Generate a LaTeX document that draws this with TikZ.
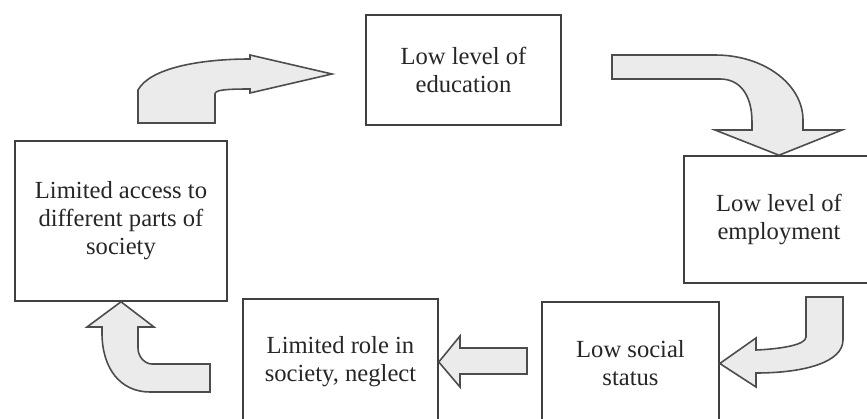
\documentclass[tikz,border=0pt]{standalone}
\usepackage{fontspec}
\setmainfont{Liberation Serif}
\tikzset{
    box/.style={ % the five boxes of the cycle
        draw=black!75,
        line width=0.9pt,
        align=center,
        inner sep=0pt,
        text=black!85,
        font=\fontsize{14}{16}\selectfont
    },
    bigarrow/.style={ % wide block arrows between the boxes
        draw=black!70,
        line width=0.9pt,
        fill=black!8,
        line join=miter
    }
}

\begin{document}
\begin{tikzpicture}[x=0.02cm,y=-0.02cm]
            \useasboundingbox (0,0) rectangle (867,419);
            \node[box, minimum width=3.9cm, minimum height=2.2cm] (edu) at (463.5,70) {Low level of\\education};
            \node[box, minimum width=3.8cm, minimum height=2.54cm] (emp) at (779,219.5) {Low level of\\employment};
            \node[box, minimum width=3.54cm, minimum height=2.46cm] (soc) at (630.5,363.5) {Low social\\status};
            \node[box, minimum width=3.9cm, minimum height=2.52cm] (role) at (340.5,362) {Limited role in\\society, neglect};
            \node[box, minimum width=4.24cm, minimum height=3.2cm] (acc) at (121,221) {Limited access to\\different parts of\\society};

            % acc -> edu
            \draw[bigarrow] (138,123) -- (138,90) .. controls (150,68) and (200,59) .. (250,59)
                -- (250,55) -- (332,74) -- (250,93) -- (250,89)
                .. controls (225,89) and (215,90) .. (215,94) -- (215,123) -- cycle;
            % edu -> emp
            \draw[bigarrow] (612,55) -- (715,55) .. controls (765,55) and (803,85) .. (803,120)
                -- (803,130) -- (842,130) -- (emp.north) -- (715,130) -- (752,130) -- (752,122)
                .. controls (752,95) and (740,79) .. (720,79) -- (612,79) -- cycle;
            % emp -> soc
            \draw[bigarrow] (806,297) -- (843,297) -- (843,340) .. controls (843,362) and (805,373) .. (756,373)
                -- (756,387) -- (soc.east) -- (756,338) -- (756,350)
                .. controls (780,349) and (806,345) .. (806,337) -- cycle;
            % soc -> role
            \draw[bigarrow] (527,348) -- (460,348) -- (460,336) -- (role.east) -- (460,387) -- (460,374) -- (527,374) -- cycle;
            % role -> acc
            \draw[bigarrow] (210,364) -- (210,392) -- (150,392) .. controls (120,392) and (102,368) .. (102,333)
                -- (102,327) -- (87,327) -- (acc.south) -- (154,327) -- (138,327) -- (138,348)
                .. controls (138,357) and (145,364) .. (152,364) -- cycle;
        \end{tikzpicture}
\end{document}
